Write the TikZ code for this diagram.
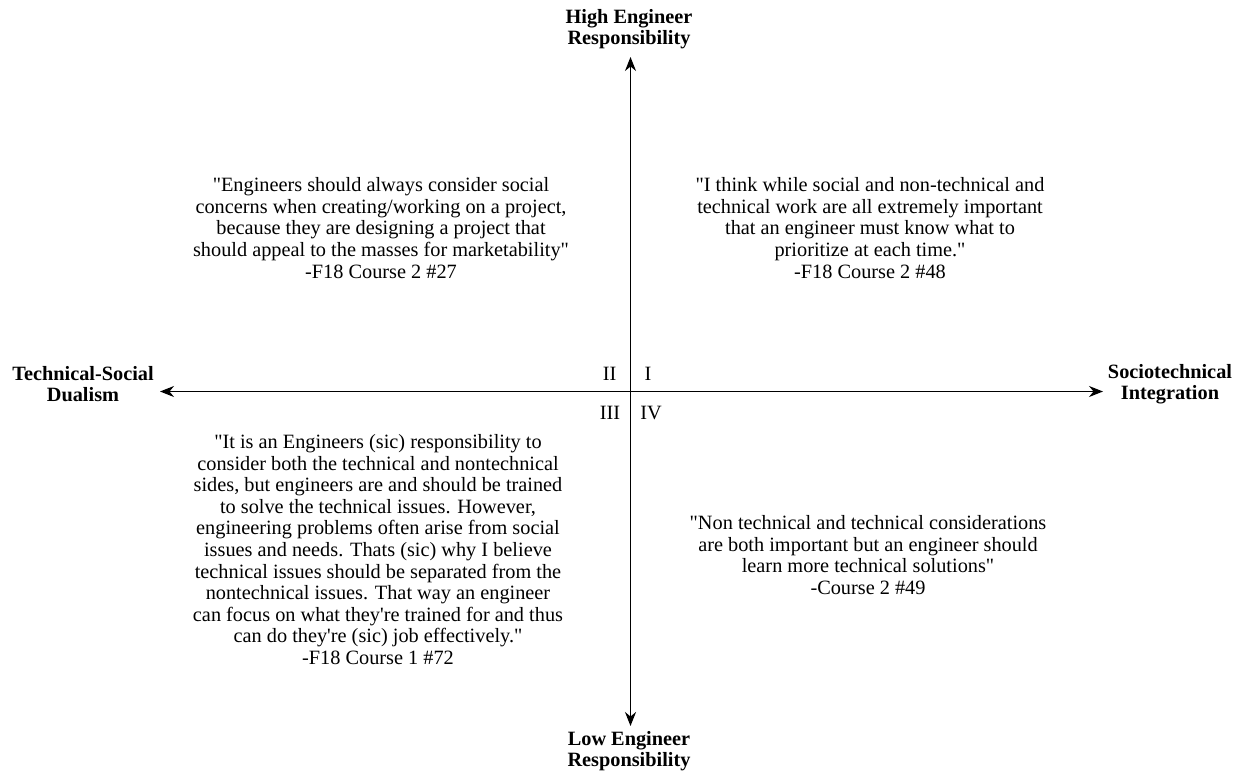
\documentclass[tikz,border=0pt]{standalone}
\usepackage{fontspec}
\setmainfont{Liberation Serif}[Ligatures=TeXOff]
\usetikzlibrary{arrows.meta}
\begin{document}
\begin{tikzpicture}[x=1pt,y=-1pt,
  txt/.style={align=center,inner sep=0pt,font=\fontsize{20.3}{21.6}\selectfont},
  axlabel/.style={align=center,inner sep=0pt,font=\fontsize{20.3}{21.6}\selectfont\bfseries},
  roman/.style={inner sep=0pt,font=\fontsize{20.3}{21.6}\selectfont},
  axis/.style={line width=1.5pt,-{Stealth[length=14pt,width=11pt]}}]
\useasboundingbox (0,0) rectangle (1238,773);
\coordinate (o) at (630.5,391.5);
\coordinate (top) at (630.5,57);
\coordinate (bot) at (630.5,726);
\coordinate (lft) at (160,391.5);
\coordinate (rgt) at (1103,391.5);
\draw[axis] (o) -- (top);
\draw[axis] (o) -- (bot);
\draw[axis] (o) -- (lft);
\draw[axis] (o) -- (rgt);
\node[axlabel] (hi) at (629,29) {High Engineer\\Responsibility};
\node[axlabel] (lo) at (629,751) {Low Engineer\\Responsibility};
\node[axlabel] (ld) at (83,384) {Technical-Social\\Dualism};
\node[axlabel] (ri) at (1170,384) {Sociotechnical\\Integration};
\node[roman] (q2) at (609.5,374) {II};
\node[roman] (q1) at (648,374) {I};
\node[roman] (q3) at (610,413) {III};
\node[roman] (q4) at (651,413) {IV};
\node[txt] (tl) at (381,228) {"Engineers should always consider social\\concerns when creating/working on a project,\\because they are designing a project that\\should appeal to the masses for marketability"\\-F18 Course 2 \#27};
\node[txt] (tr) at (870,228) {"I think while social and non-technical and\\technical work are all extremely important\\that an engineer must know what to\\prioritize at each time."\\-F18 Course 2 \#48};
\node[txt] (bl) at (378,549.5) {"It is an Engineers (sic) responsibility to\\consider both the technical and nontechnical\\sides, but engineers are and should be trained\\to solve the technical issues. However,\\engineering problems often arise from social\\issues and needs. Thats (sic) why I believe\\technical issues should be separated from the\\nontechnical issues. That way an engineer\\can focus on what they're trained for and thus\\can do they're (sic) job effectively."\\-F18 Course 1 \#72};
\node[txt] (br) at (868,555) {"Non technical and technical considerations\\are both important but an engineer should\\learn more technical solutions"\\-Course 2 \#49};
\end{tikzpicture}
\end{document}
